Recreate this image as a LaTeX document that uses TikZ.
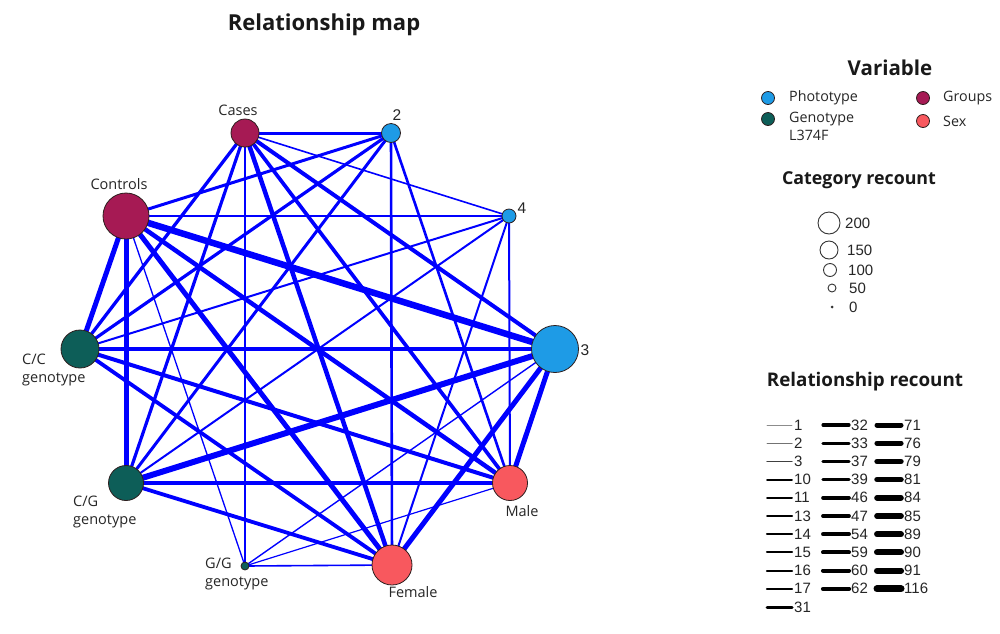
\documentclass[tikz,border=0pt]{standalone}
\usepackage{fontspec}
\setmainfont{Open Sans}
\newfontfamily\numfont{Liberation Sans}
\definecolor{grpc}{RGB}{166,26,84}
\definecolor{phoc}{RGB}{30,155,230}
\definecolor{genc}{RGB}{13,94,88}
\definecolor{sexc}{RGB}{248,88,94}
\definecolor{edgec}{RGB}{0,0,255}
\definecolor{rimc}{RGB}{45,30,30}
\pgfdeclarelayer{paper}
\pgfdeclarelayer{links}
\pgfsetlayers{paper,links,main}
\begin{document}
\begin{tikzpicture}[x=1pt,y=-1pt,
  vnode/.style={circle, draw=rimc, line width=0.8pt, inner sep=0pt, minimum size=#1},
  lnk/.style={draw=edgec, line width=#1},
  lbl/.style={font=\fontsize{14.5}{18}\selectfont, inner sep=0pt, text=black!85},
  numlbl/.style={font=\numfont\fontsize{15.5}{17}\selectfont, inner sep=0pt, text=black!85},
  ttl/.style={font=\bfseries\fontsize{19}{21}\selectfont, inner sep=0pt, text=black!90},
  dot/.style={circle, draw=rimc, line width=0.8pt, inner sep=0pt, minimum size=13pt},
  ring/.style={circle, draw=black!80, line width=0.9pt, inner sep=0pt, minimum size=#1},
  key/.style={line width=#1, line cap=round},
  keynum/.style={font=\numfont\fontsize{15}{16}\selectfont, inner sep=0pt, anchor=west, text=black!85}
]
\begin{pgfonlayer}{paper}
\fill[white] (0,0) rectangle (1000,633);
\end{pgfonlayer}
\useasboundingbox (0,0) rectangle (1000,633);

% title
\node[ttl, font=\bfseries\fontsize{22}{24}\selectfont] (title) at (324,25) {Relationship map};

% category nodes
\node[vnode=28pt, fill=grpc] (ca) at (245,133) {};
\node[vnode=46pt, fill=grpc] (co) at (126,216) {};
\node[vnode=19pt, fill=phoc] (p2) at (391,133) {};
\node[vnode=14pt, fill=phoc] (p4) at (509,216) {};
\node[vnode=47pt, fill=phoc] (p3) at (555,349) {};
\node[vnode=38pt, fill=genc] (cc) at (80,349) {};
\node[vnode=35pt, fill=genc] (cg) at (126,483) {};
\node[vnode=8pt, fill=genc] (gg) at (245,566) {};
\node[vnode=40pt, fill=sexc] (fe) at (392,565) {};
\node[vnode=35pt, fill=sexc] (ma) at (510,483) {};

% relationships
\begin{pgfonlayer}{links}
\draw[lnk=6.5] (co.center) -- (p3.center);
\draw[lnk=6]   (cg.center) -- (p3.center);
\draw[lnk=5]   (co.center) -- (cc.center);
\draw[lnk=5]   (co.center) -- (cg.center);
\draw[lnk=5]   (co.center) -- (fe.center);
\draw[lnk=4.5] (co.center) -- (ma.center);
\draw[lnk=5]   (p3.center) -- (ma.center);
\draw[lnk=5]   (p3.center) -- (fe.center);
\draw[lnk=4.3] (cc.center) -- (p3.center);
\draw[lnk=4.5] (ca.center) -- (fe.center);
\draw[lnk=4]   (ca.center) -- (p3.center);
\draw[lnk=3.7] (ca.center) -- (ma.center);
\draw[lnk=4]   (cc.center) -- (ma.center);
\draw[lnk=3.8] (cc.center) -- (fe.center);
\draw[lnk=3.8] (cg.center) -- (ma.center);
\draw[lnk=3.8] (cg.center) -- (fe.center);
\draw[lnk=3]   (ca.center) -- (p2.center);
\draw[lnk=3.3] (ca.center) -- (cc.center);
\draw[lnk=3.2] (ca.center) -- (cg.center);
\draw[lnk=3]   (co.center) -- (p2.center);
\draw[lnk=3.2] (p2.center) -- (cc.center);
\draw[lnk=3]   (p2.center) -- (cg.center);
\draw[lnk=2.6] (p2.center) -- (ma.center);
\draw[lnk=2.6] (p2.center) -- (fe.center);
\draw[lnk=2.4] (co.center) -- (p4.center);
\draw[lnk=1.6] (ca.center) -- (p4.center);
\draw[lnk=2]   (cc.center) -- (p4.center);
\draw[lnk=2]   (cg.center) -- (p4.center);
\draw[lnk=2]   (ma.center) -- (p4.center);
\draw[lnk=2]   (fe.center) -- (p4.center);
\draw[lnk=1.3] (ca.center) -- (gg.center);
\draw[lnk=1.3] (co.center) -- (gg.center);
\draw[lnk=1.4] (p3.center) -- (gg.center);
\draw[lnk=1.2] (gg.center) -- (ma.center);
\draw[lnk=1.6] (gg.center) -- (fe.center);
\end{pgfonlayer}

% node labels
\node[lbl] (lca) at (238,110) {Cases};
\node[lbl] (lco) at (119,184) {Controls};
\node[numlbl] (lp2) at (397,115) {2};
\node[numlbl] (lp4) at (522,208) {4};
\node[numlbl] (lp3) at (585,350) {3};
\node[lbl, anchor=west, align=left] (lcc) at (22,370) {C/C\\genotype};
\node[lbl, anchor=west, align=left] (lcg) at (73,512) {C/G\\genotype};
\node[lbl, anchor=west, align=left] (lgg) at (205,574) {G/G\\genotype};
\node[lbl] (lfe) at (413,592) {Female};
\node[lbl] (lma) at (522,511) {Male};

% legend: variable
\node[ttl, font=\bfseries\fontsize{20.5}{22}\selectfont] (tvar) at (890,68) {Variable};
\node[dot, fill=phoc] (dpho) at (768,98) {};
\node[dot, fill=genc] (dgen) at (768,119) {};
\node[dot, fill=grpc] (dgrp) at (923,98) {};
\node[dot, fill=sexc] (dsex) at (923,121) {};
\node[lbl, anchor=west, font=\fontsize{14.3}{18}\selectfont] (tpho) at (789,98) {Phototype};
\node[lbl, anchor=north west, align=left, font=\fontsize{14.3}{18}\selectfont] (tgen) at (789,112) {Genotype\\L374F};
\node[lbl, anchor=west, font=\fontsize{14.3}{18}\selectfont] (tgrp) at (943,98) {Groups};
\node[lbl, anchor=west, font=\fontsize{14.3}{18}\selectfont] (tsex) at (943,121) {Sex};

% legend: category recount
\node[ttl, font=\bfseries\fontsize{17.8}{19}\selectfont] (tcat) at (859,180) {Category recount};
\node[ring=22pt] (r200) at (829,223) {};
\node[ring=18pt] (r150) at (829,250) {};
\node[ring=13pt] (r100) at (830,270) {};
\node[ring=8pt]  (r50)  at (832,288) {};
\node[circle, fill=black!80, inner sep=0pt, minimum size=3pt] (r0) at (832,307) {};
\node[keynum] (n200) at (845,223) {200};
\node[keynum] (n150) at (847,250) {150};
\node[keynum] (n100) at (848,270) {100};
\node[keynum] (n50)  at (849,288) {50};
\node[keynum] (n0)   at (849,307) {0};

% legend: relationship recount
\node[ttl, font=\bfseries\fontsize{18.8}{21}\selectfont] (trel) at (865,382) {Relationship recount};
\foreach \lab/\w/\c [count=\i from 0] in {1/0.9/black!45, 2/1.0/black!55, 3/1.3/black!75, 10/1.9/black, 11/1.95/black, 13/2.0/black, 14/2.1/black, 15/2.15/black, 16/2.2/black, 17/2.3/black, 31/3.0/black}{
  \coordinate (a\i) at (767,425+18.2*\i);
  \coordinate (b\i) at (792,425+18.2*\i);
  \draw[key=\w, draw=\c] (a\i) -- (b\i);
  \node[keynum] (k\i) at (794,425+18.2*\i) {\lab};
}
\foreach \lab/\w [count=\i from 0] in {32/3.2, 33/3.3, 37/3.4, 39/3.5, 46/3.7, 47/3.8, 54/3.9, 59/4.0, 60/4.1, 62/4.2}{
  \coordinate (c\i) at (823,425+18.2*\i);
  \coordinate (d\i) at (849,425+18.2*\i);
  \draw[key=\w] (c\i) -- (d\i);
  \node[keynum] (m\i) at (851,425+18.2*\i) {\lab};
}
\foreach \lab/\w [count=\i from 0] in {71/5.0, 76/5.2, 79/5.4, 81/5.5, 84/5.6, 85/5.7, 89/5.9, 90/6.0, 91/6.1, 116/7.0}{
  \coordinate (e\i) at (877,425+18.2*\i);
  \coordinate (f\i) at (901,425+18.2*\i);
  \draw[key=\w] (e\i) -- (f\i);
  \node[keynum] (q\i) at (904,425+18.2*\i) {\lab};
}
\end{tikzpicture}
\end{document}
